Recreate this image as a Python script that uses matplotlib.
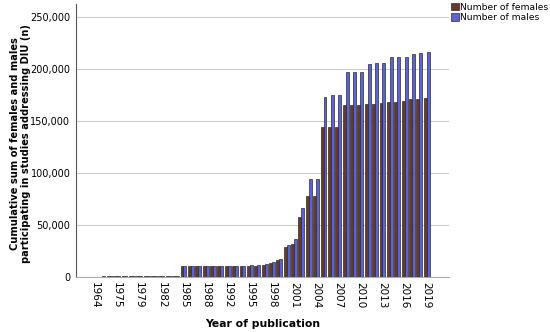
import matplotlib.pyplot as plt
import numpy as np

# year categories (only years with studies are shown)
years = [1964, 1968, 1972, 1975, 1976, 1977, 1979, 1980, 1981, 1982, 1983, 1984,
         1985, 1986, 1987, 1988, 1989, 1990, 1992, 1993, 1994, 1995, 1996, 1997,
         1998, 1999, 2000, 2001, 2002, 2003, 2004, 2005, 2006, 2007, 2008, 2009,
         2010, 2011, 2012, 2013, 2014, 2015, 2016, 2017, 2018, 2019]

# cumulative number of females
females = [300, 350, 400, 450, 500, 550, 600, 650, 700, 750, 800, 850,
           10000, 10100, 10100, 10200, 10200, 10300, 10400, 10400, 10500, 10600,
           10800, 11500, 13500, 16500, 28500, 31400, 58000, 78000, 78000,
           144000, 144000, 144000, 165000, 165700, 165700, 166000, 166300,
           167000, 168300, 168600, 169000, 170800, 171500, 172400]

# cumulative number of males
males = [320, 380, 430, 480, 530, 580, 630, 680, 730, 780, 830, 880,
         10300, 10400, 10400, 10500, 10600, 10700, 10800, 10800, 10900, 11000,
         11500, 12500, 14500, 17000, 30500, 36500, 66600, 94000, 94500,
         172800, 174700, 174700, 196800, 197400, 197400, 204800, 205400,
         205400, 211200, 211200, 211200, 214400, 215700, 216300]

x = np.arange(len(years))
w = 0.4

fig = plt.figure(figsize=(5.5, 3.32), dpi=100)
ax = fig.add_axes([0.138, 0.166, 0.678, 0.822])

ax.bar(x - w / 2, females, width=w, color='#66392f', edgecolor='#2e2a2a',
       linewidth=0.5, label='Number of females', zorder=3)
ax.bar(x + w / 2, males, width=w, color='#5a64d8', edgecolor='#2e2a2a',
       linewidth=0.5, label='Number of males', zorder=3)

ax.set_xlim(-2.6, 48)
ax.set_ylim(0, 262500)
ax.set_yticks([0, 50000, 100000, 150000, 200000, 250000])
ax.set_yticklabels(['0', '50,000', '100,000', '150,000', '200,000', '250,000'], fontsize=7)
ax.yaxis.grid(True, color='#cccccc', linewidth=0.8, zorder=0)
ax.set_axisbelow(True)

ticks = x[::3]
ax.set_xticks(ticks)
ax.set_xticklabels([str(years[i]) for i in ticks], rotation=-90, fontsize=7.5)
ax.tick_params(axis='both', length=0, pad=4)

ax.spines['top'].set_visible(False)
ax.spines['right'].set_visible(False)
ax.spines['left'].set_color('#555555')
ax.spines['bottom'].set_color('#aaaaaa')

ax.set_ylabel('Cumulative sum of females and males\nparticipating in studies addressing DIU (n)',
              fontsize=7.1, fontweight='bold', linespacing=1.1)
ax.yaxis.set_label_coords(-0.12, 0.49)
ax.set_xlabel('Year of publication', fontsize=7.8, fontweight='bold', labelpad=7)

ax.legend(loc='upper left', bbox_to_anchor=(0.819, 0.995), bbox_transform=fig.transFigure,
          frameon=False, fontsize=6.6, handlelength=0.8, handleheight=0.9,
          handletextpad=0.15, labelspacing=0.15, borderpad=0.1, borderaxespad=0)

fig.savefig('out.png', dpi=100)
